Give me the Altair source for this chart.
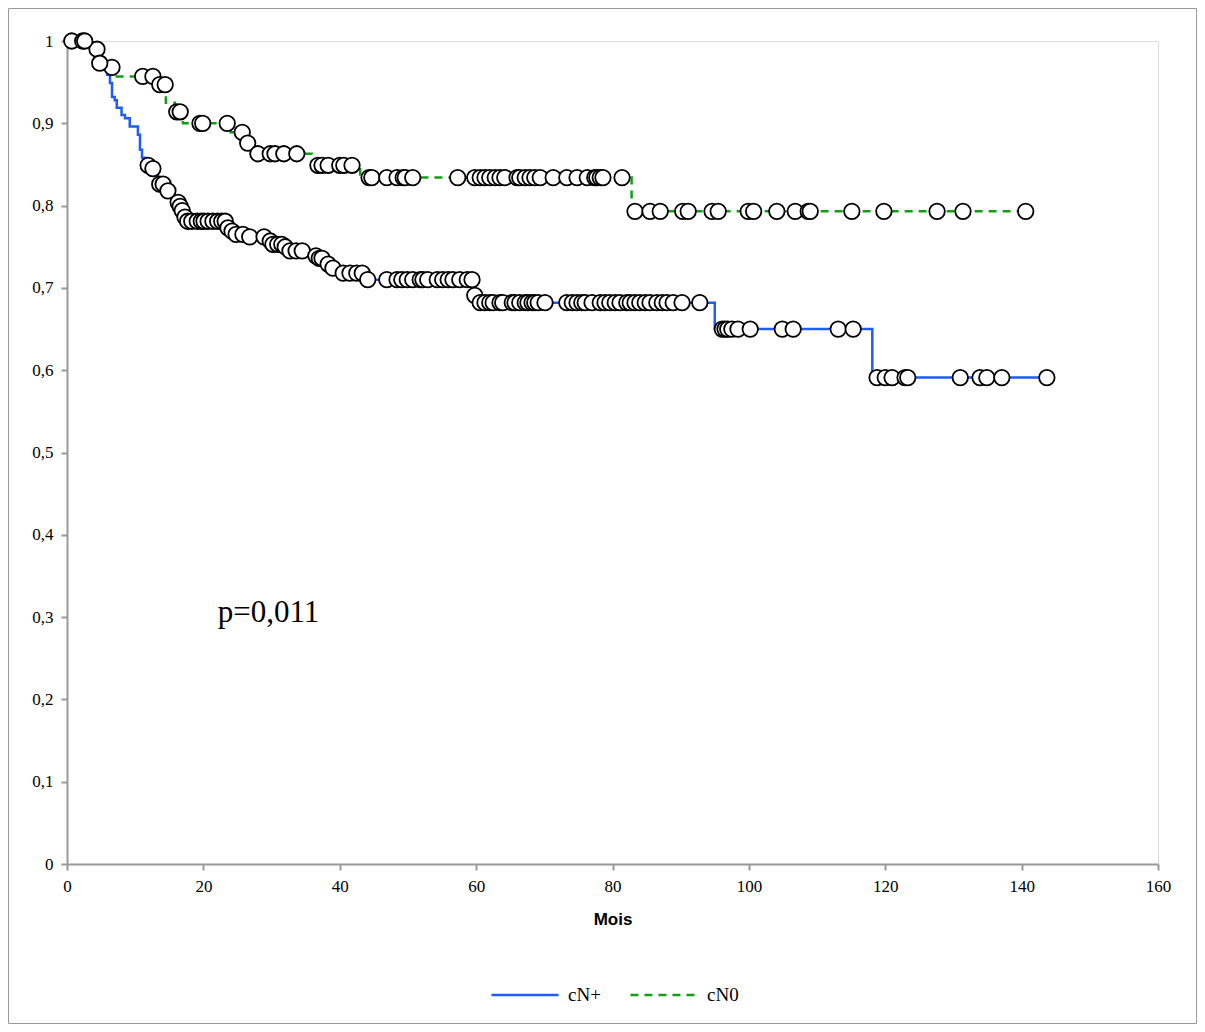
import altair as alt
import pandas as pd

# ---- data ----
series_names = ["cN+", "cN0"]

blue_t = [0, 3.6, 4.6, 5.5, 5.9, 6.3, 6.6, 7.0, 7.3, 8.0, 8.5, 9.2, 10.4, 10.7, 11.0, 11.5,
          12.2, 13.3, 14.5, 15.5, 16.5, 16.8, 17.1, 17.5, 23.4, 24.0, 24.5, 26.2, 29.5, 30.0,
          31.8, 32.3, 36.0, 36.8, 37.8, 38.7, 39.5, 43.8, 59.6, 60.2, 95.0, 118.1]
blue_s = [1.0, 0.985, 0.973, 0.966, 0.959, 0.949, 0.932, 0.928, 0.919, 0.910, 0.906, 0.896,
          0.886, 0.868, 0.858, 0.849, 0.845, 0.826, 0.818, 0.804, 0.799, 0.794, 0.786, 0.781,
          0.773, 0.769, 0.765, 0.762, 0.757, 0.753, 0.750, 0.745, 0.739, 0.736, 0.729, 0.724,
          0.718, 0.710, 0.691, 0.682, 0.650, 0.591]
blue_end = 143.7
blue_cens = [2.3, 2.6, 4.8, 11.9, 12.6, 13.6, 14.1, 14.8, 16.3, 16.6, 16.9, 17.3, 17.7, 18.3,
             19.1, 19.7, 20.1, 20.7, 21.4, 22.1, 22.7, 23.2, 23.6, 24.2, 24.8, 25.8, 26.8, 28.9,
             29.8, 30.2, 30.9, 31.5, 32.0, 32.7, 33.6, 34.5, 36.5, 37.0, 37.4, 38.3, 39.0, 40.5,
             41.5, 42.5, 43.3, 44.1, 46.9, 48.4, 49.1, 49.9, 50.7, 51.8, 52.2, 52.9, 54.3, 55.1,
             55.9, 56.6, 57.6, 58.7, 59.4, 59.8, 60.6, 61.3, 62.0, 62.5, 63.5, 63.9, 65.3, 65.7,
             66.4, 67.2, 67.6, 68.2, 68.6, 69.1, 70.1, 73.3, 74.1, 74.8, 75.5, 76.0, 77.0, 78.2,
             78.9, 79.6, 80.4, 81.1, 82.1, 82.6, 83.3, 84.0, 84.8, 85.5, 86.5, 87.3, 88.0, 88.9,
             90.2, 92.8, 96.1, 96.5, 96.9, 97.5, 98.4, 100.2, 104.9, 106.5, 113.1, 115.3, 118.8,
             120.0, 121.0, 122.9, 123.3, 131.0, 133.9, 134.9, 137.1, 143.7]

green_t = [0, 3.8, 5.0, 6.8, 13.2, 14.5, 15.8, 17.0, 24.0, 26.0, 27.0, 35.9, 43.0, 82.8]
green_s = [1.0, 0.990, 0.968, 0.957, 0.947, 0.925, 0.914, 0.900, 0.889, 0.876, 0.863, 0.849,
           0.834, 0.793]
green_end = 140.6
green_cens = [0.7, 4.4, 6.6, 11.1, 12.6, 13.6, 14.4, 16.1, 16.6, 19.5, 19.9, 23.5, 25.7, 26.5,
              28.0, 29.8, 30.5, 31.8, 33.7, 36.8, 37.4, 38.3, 40.0, 40.6, 41.8, 44.3, 44.7,
              46.9, 48.4, 49.3, 49.6, 50.7, 57.3, 59.8, 60.6, 61.3, 62.0, 62.8, 63.5, 64.2,
              66.0, 66.4, 67.2, 67.9, 68.6, 69.4, 71.3, 73.3, 74.8, 76.3, 77.4, 77.7, 78.2,
              78.6, 81.4, 83.3, 85.5, 87.0, 90.3, 91.1, 94.6, 95.5, 99.9, 100.7, 104.1, 106.8,
              108.7, 109.0, 115.1, 119.8, 127.6, 131.4, 140.6]

x_ticks = [0, 20, 40, 60, 80, 100, 120, 140, 160]
y_ticks = [0, 0.1, 0.2, 0.3, 0.4, 0.5, 0.6, 0.7, 0.8, 0.9, 1.0]
p_text = "p=0,011"

# ---- build tables ----
def step_rows(name, ts, ss, end):
    rows = [{"series": name, "t": t, "s": s, "o": i} for i, (t, s) in enumerate(zip(ts, ss))]
    rows.append({"series": name, "t": end, "s": ss[-1], "o": len(ts)})
    return rows

def level_at(ts, ss, c):
    lv = ss[0]
    for t, s in zip(ts, ss):
        if t <= c:
            lv = s
    return lv

lines_df = pd.DataFrame(step_rows("cN+", blue_t, blue_s, blue_end) +
                        step_rows("cN0", green_t, green_s, green_end))
cens_df = pd.DataFrame(
    [{"series": "cN0", "t": c, "s": level_at(green_t, green_s, c)} for c in green_cens] +
    [{"series": "cN+", "t": c, "s": level_at(blue_t, blue_s, c)} for c in blue_cens]
)

SERIF = "Liberation Serif"
x_scale = alt.Scale(domain=[0, 160], nice=False)
y_scale = alt.Scale(domain=[0, 1], nice=False)

x_axis = alt.Axis(values=x_ticks, title="Mois", titleFont="Liberation Sans", titleFontSize=17,
                  titleFontWeight="bold", titleColor="black", titlePadding=17,
                  labelFont=SERIF, labelFontSize=17, labelColor="black", labelPadding=8,
                  labelFlush=False,
                  grid=False, domainColor="#999", domainWidth=2, tickColor="#999",
                  tickWidth=2, tickSize=6)
y_axis = alt.Axis(values=y_ticks, title=None,
                  labelExpr="replace(format(datum.value, '.1~f'), '.', ',')",
                  labelFont=SERIF, labelFontSize=17, labelColor="black", labelPadding=8,
                  labelFlush=False,
                  grid=False, domainColor="#999", domainWidth=2, tickColor="#999",
                  tickWidth=2, tickSize=6)

legend_kw = dict(title=None, orient="none", legendX=423, legendY=919,
                 direction="horizontal", symbolType="stroke",
                 symbolSize=4500, symbolStrokeWidth=2.5,
                 labelFont=SERIF, labelFontSize=19, labelColor="black",
                 labelOffset=8, columnPadding=24)

lines = alt.Chart(lines_df).mark_line(interpolate="step-after", strokeWidth=2.5).encode(
    x=alt.X("t:Q", scale=x_scale, axis=x_axis),
    y=alt.Y("s:Q", scale=y_scale, axis=y_axis),
    order="o:Q",
    color=alt.Color("series:N", scale=alt.Scale(domain=series_names, range=["#1f5cff", "#12a012"]),
                    legend=alt.Legend(**legend_kw)),
    strokeDash=alt.StrokeDash("series:N",
                              scale=alt.Scale(domain=series_names, range=[[1, 0], [8, 6]]),
                              legend=alt.Legend(**legend_kw)),
)

points = alt.Chart(cens_df).mark_point(shape="circle", filled=True, fill="white", stroke="black",
                                       strokeWidth=1.8, size=240, opacity=1).encode(
    x=alt.X("t:Q", scale=x_scale),
    y=alt.Y("s:Q", scale=y_scale),
)

annot = alt.Chart(pd.DataFrame({"t": [22.1], "s": [0.305], "label": [p_text]})).mark_text(
    align="left", baseline="middle", font=SERIF, fontSize=31, color="black"
).encode(x=alt.X("t:Q", scale=x_scale), y=alt.Y("s:Q", scale=y_scale), text="label:N")

frame = alt.Chart(pd.DataFrame({"a": [0]})).mark_rect(filled=False, stroke="#999", strokeWidth=1).encode(
    x=alt.value(-58.5), x2=alt.value(1129.5), y=alt.value(-32.5), y2=alt.value(982.5)
)

chart = alt.layer(frame, lines, points, annot).properties(
    width=1091, height=823,
    padding={"left": 59, "top": 33, "right": 39, "bottom": 160},
    autosize=alt.AutoSizeParams(type="none"),
).configure_view(stroke="#aaa", strokeWidth=1.5).configure(background="white")

chart.save("out.html", embed_options={"renderer": "svg", "actions": False})
